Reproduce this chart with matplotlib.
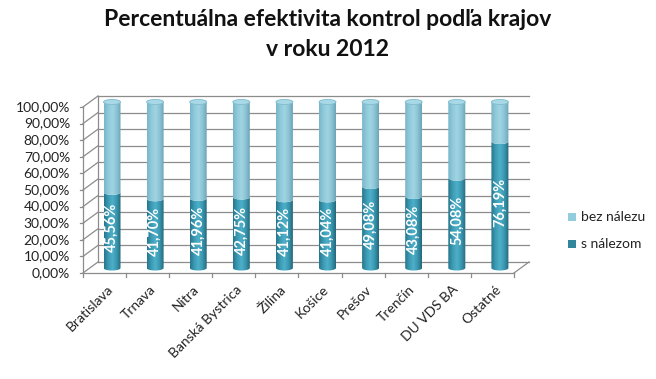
import numpy as np
import matplotlib
matplotlib.use("Agg")
import matplotlib.pyplot as plt
from matplotlib.path import Path
from matplotlib.patches import PathPatch, Ellipse, Rectangle
from matplotlib.colors import LinearSegmentedColormap

# ---------------- data ----------------
categories = ["Bratislava", "Trnava", "Nitra", "Banská Bystrica", "Žilina",
              "Košice", "Prešov", "Trenčín", "DU VDS BA", "Ostatné"]
s_nalezom = [45.56, 41.70, 41.96, 42.75, 41.12, 41.04, 49.08, 43.08, 54.08, 76.19]
bez_nalezu = [100 - v for v in s_nalezom]
series_names = ["bez nálezu", "s nálezom"]
y_ticks = list(range(0, 101, 10))
title = "Percentuálna efektivita kontrol podľa krajov\nv roku 2012"

FONT = "Lato"
W, H = 656, 379
fig = plt.figure(figsize=(W / 100, H / 100), dpi=100)

# pixel geometry of the plot box
x0_px, xs = 112.0, 43.1      # pixel of first category centre, px per category
y0_px, ys = 268.0, 1.66      # pixel of 0 %, px per %
left_px, right_px, top_px, bot_px = 10, 560, 80, 300
xl = ((left_px - x0_px) / xs, (right_px - x0_px) / xs)
yl = ((y0_px - bot_px) / ys, (y0_px - top_px) / ys)
ax = fig.add_axes([left_px / W, 1 - bot_px / H, (right_px - left_px) / W, (bot_px - top_px) / H])
ax.set_axis_off()

n = len(categories)
dxf, dyf = -7.5 / xs, -5.0 / ys   # front plane offset
dxb, dyb = 7.5 / xs, 6.0 / ys     # back plane offset
grid_c = "#8c8c8c"
lw = 0.9

# walls / grid
for v in y_ticks:
    ax.plot([-0.5 + dxf, -0.5 + dxb], [v + dyf, v + dyb], color=grid_c, lw=lw, zorder=1)
    ax.plot([-0.5 + dxb, n - 0.5 + dxb], [v + dyb, v + dyb], color=grid_c, lw=lw, zorder=1)
    ax.plot([-0.5 + dxf - 0.07, -0.5 + dxf], [v + dyf, v + dyf], color=grid_c, lw=lw, zorder=1)
    ax.text(-0.5 + dxf - 0.3, v + dyf, f"{v:.2f}%".replace(".", ","), ha="right", va="center",
            fontsize=10, family=FONT, color="#222222")
ax.plot([-0.5 + dxf, -0.5 + dxf], [dyf, 100 + dyf], color=grid_c, lw=lw, zorder=1)
ax.plot([-0.5 + dxb, -0.5 + dxb], [dyb, 100 + dyb], color=grid_c, lw=lw, zorder=1)
ax.plot([-0.5 + dxf, n - 0.5 + dxf], [dyf, dyf], color=grid_c, lw=lw, zorder=1)
ax.plot([n - 0.5 + dxf, n - 0.5 + dxb], [dyf, dyb], color=grid_c, lw=lw, zorder=1)
for k in range(n + 1):
    ax.plot([k - 0.5 + dxf, k - 0.5 + dxf], [dyf, dyf - 2.5], color=grid_c, lw=lw, zorder=1)

# cylinders
w = 17.0 / xs
eh = 5.0 / ys
dark_cm = LinearSegmentedColormap.from_list("d", ["#26768c", "#3c9bb4", "#4eb0c8", "#3a97b0", "#23687b"])
light_cm = LinearSegmentedColormap.from_list("l", ["#77b6c9", "#8fc9da", "#a0d4e3", "#8cc4d5", "#6aa5b7"])
grad = np.linspace(0, 1, 64).reshape(1, -1)


def front_arc(xc, y, reverse=False, npts=30):
    t = np.linspace(np.pi, 2 * np.pi, npts)
    pts = np.column_stack([xc + w / 2 * np.cos(t), y + eh / 2 * np.sin(t)])
    return pts[::-1] if reverse else pts


def back_arc(xc, y, npts=30):
    t = np.linspace(0, np.pi, npts)
    return np.column_stack([xc + w / 2 * np.cos(t), y + eh / 2 * np.sin(t)])


for i in range(n):
    xc = i
    a, b = 0.0, s_nalezom[i]
    # dark segment
    pts = np.vstack([front_arc(xc, a), front_arc(xc, b, reverse=True)])
    p = PathPatch(Path(np.vstack([pts, pts[:1]])), facecolor="none", edgecolor="none")
    ax.add_patch(p)
    im = ax.imshow(grad, cmap=dark_cm, extent=(xc - w / 2, xc + w / 2, a - eh, b + eh),
                   aspect="auto", zorder=3, interpolation="bilinear")
    im.set_clip_path(p)
    # light segment
    top = b + bez_nalezu[i]
    pts = np.vstack([front_arc(xc, b), back_arc(xc, top)])
    p2 = PathPatch(Path(np.vstack([pts, pts[:1]])), facecolor="none", edgecolor="none")
    ax.add_patch(p2)
    im2 = ax.imshow(grad, cmap=light_cm, extent=(xc - w / 2, xc + w / 2, b - eh, top + eh),
                    aspect="auto", zorder=3, interpolation="bilinear")
    im2.set_clip_path(p2)
    ax.add_patch(Ellipse((xc, top), w, eh, facecolor="#a9d9e6", edgecolor="#7fbdd0", lw=0.6, zorder=4))
    ax.text(xc, b / 2 + 1.5, f"{s_nalezom[i]:.2f}%".replace(".", ","), rotation=90, ha="center", va="center",
            color="white", fontsize=10.5, fontweight="bold", family=FONT, zorder=5)
    ax.text(xc + dxf + 0.05, dyf - 6, categories[i], rotation=45, ha="right", va="top",
            rotation_mode="anchor", fontsize=10, family=FONT, color="#222222")

ax.set_xlim(*xl)
ax.set_ylim(*yl)

# legend
for j, (name, col) in enumerate(zip(series_names, ["#93cddd", "#31869b"])):
    yp = [217, 244][j]
    fig.patches.append(Rectangle((568 / W, 1 - (yp + 4) / H), 8 / W, 8 / H, transform=fig.transFigure,
                                 facecolor=col, edgecolor="none", figure=fig))
    fig.text(581 / W, 1 - yp / H, name, ha="left", va="center", fontsize=10, family=FONT, color="#222222")

fig.text(0.5, 1 - 20 / H, title.split("\n")[0], ha="center", va="center", fontsize=16.5,
         fontweight="bold", family=FONT, color="#111111")
fig.text(0.5, 1 - 50 / H, title.split("\n")[1], ha="center", va="center", fontsize=16.5,
         fontweight="bold", family=FONT, color="#111111")

fig.savefig("out.png", dpi=100)
